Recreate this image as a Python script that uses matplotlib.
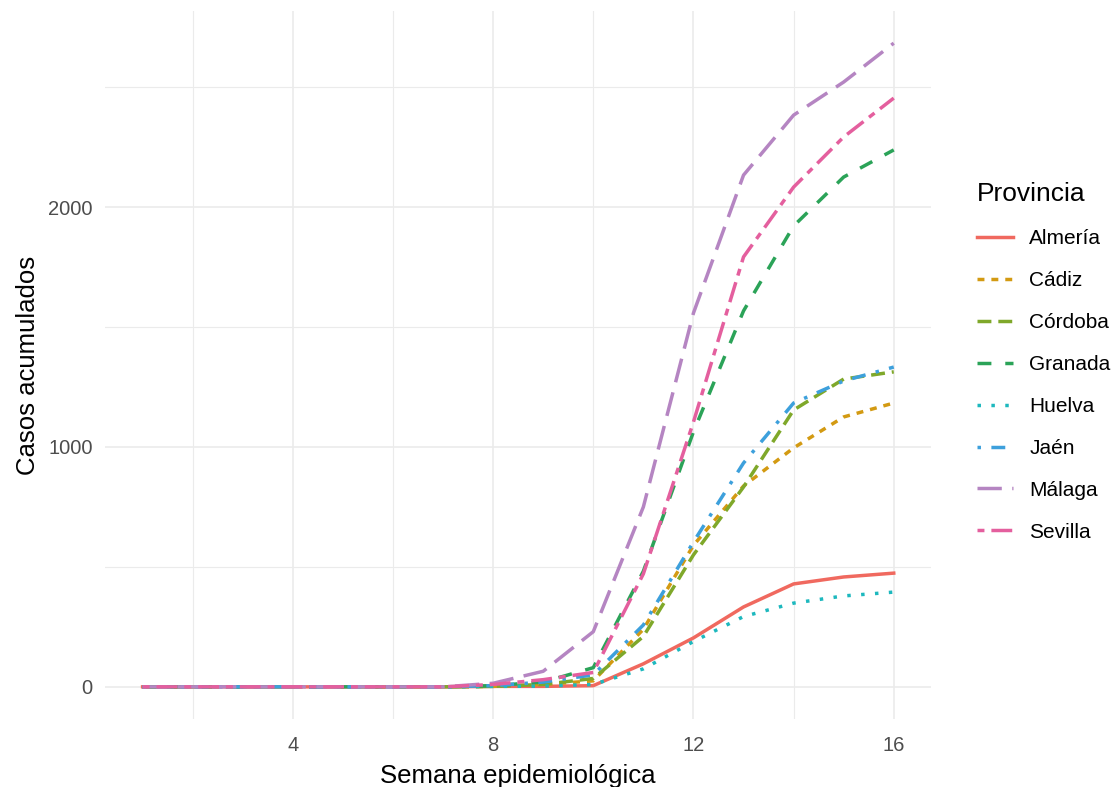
import numpy as np
import matplotlib.pyplot as plt
from matplotlib.ticker import MultipleLocator

plt.rcParams['font.family'] = ['Liberation Sans', 'DejaVu Sans']

# ========== datos ==========
semanas = list(range(1, 17))

almeria = [0, 0, 0, 0, 0, 0, 0, 2, 2, 5, 96, 204, 333, 429, 458, 474]
cadiz = [0, 0, 0, 0, 0, 0, 0, 2, 10, 25, 240, 590, 837, 996, 1125, 1183]
cordoba = [0, 0, 0, 0, 0, 0, 0, 2, 10, 35, 210, 550, 833, 1154, 1283, 1313]
granada = [0, 0, 0, 0, 0, 0, 0, 5, 20, 80, 482, 1063, 1567, 1921, 2125, 2238]
huelva = [0, 0, 0, 0, 0, 0, 0, 2, 3, 10, 75, 189, 293, 349, 379, 395]
jaen = [0, 0, 0, 0, 0, 0, 0, 5, 20, 50, 258, 604, 933, 1183, 1275, 1333]
malaga = [0, 0, 0, 0, 0, 0, 0, 15, 65, 230, 750, 1558, 2133, 2383, 2521, 2683]
sevilla = [0, 0, 0, 0, 0, 0, 0, 10, 30, 60, 471, 1104, 1792, 2083, 2292, 2454]

provincias = ['Almería', 'Cádiz', 'Córdoba', 'Granada', 'Huelva', 'Jaén', 'Málaga', 'Sevilla']
series = [almeria, cadiz, cordoba, granada, huelva, jaen, malaga, sevilla]

colores = ['#F0695F', '#D39A12', '#7FA82A', '#2BA358', '#1DB8BE', '#3DA0DC', '#B585C2', '#E45F9E']
# tipos de linea estilo ggplot (solid, 22, 42, 44, 13, 1343, 73, 2262)
estilos = ['-', (0, (2, 2)), (0, (4, 2)), (0, (4, 4)), (0, (1, 3)),
           (0, (1, 3, 4, 3)), (0, (7, 3)), (0, (2, 2, 6, 2))]

fig = plt.figure(figsize=(11.14, 7.87), dpi=100)
ax = fig.add_axes([0.0943, 0.0864, 0.7417, 0.8996])

for nombre, vals, col, ls in zip(provincias, series, colores, estilos):
    ax.plot(semanas, vals, color=col, linestyle=ls, linewidth=2.5, label=nombre)

# ejes estilo theme_minimal
ax.xaxis.set_major_locator(MultipleLocator(4))
ax.xaxis.set_minor_locator(MultipleLocator(2))
ax.yaxis.set_major_locator(MultipleLocator(1000))
ax.yaxis.set_minor_locator(MultipleLocator(500))
ax.set_xlim(0.25, 16.75)
ax.set_ylim(-134, 2817)
ax.grid(which='major', color='#EBEBEB', linewidth=1.2)
ax.grid(which='minor', color='#EBEBEB', linewidth=0.8)
ax.set_axisbelow(True)
for s in ax.spines.values():
    s.set_visible(False)
ax.tick_params(which='both', length=0, labelsize=14.5, labelcolor='#4D4D4D')
ax.tick_params(axis='x', pad=12)
ax.tick_params(axis='y', pad=9)

ax.set_xlabel('Semana epidemiológica', fontsize=18.5, labelpad=7)
ax.set_ylabel('Casos acumulados', fontsize=18.5, labelpad=6)

leg = fig.legend(loc='center left', bbox_to_anchor=(0.868, 0.54), frameon=False,
                 title='Provincia', fontsize=15, title_fontsize=19,
                 handlelength=1.7, handletextpad=0.8, labelspacing=1.1,
                 borderpad=0, alignment='left')

plt.savefig('out.png', dpi=100)
